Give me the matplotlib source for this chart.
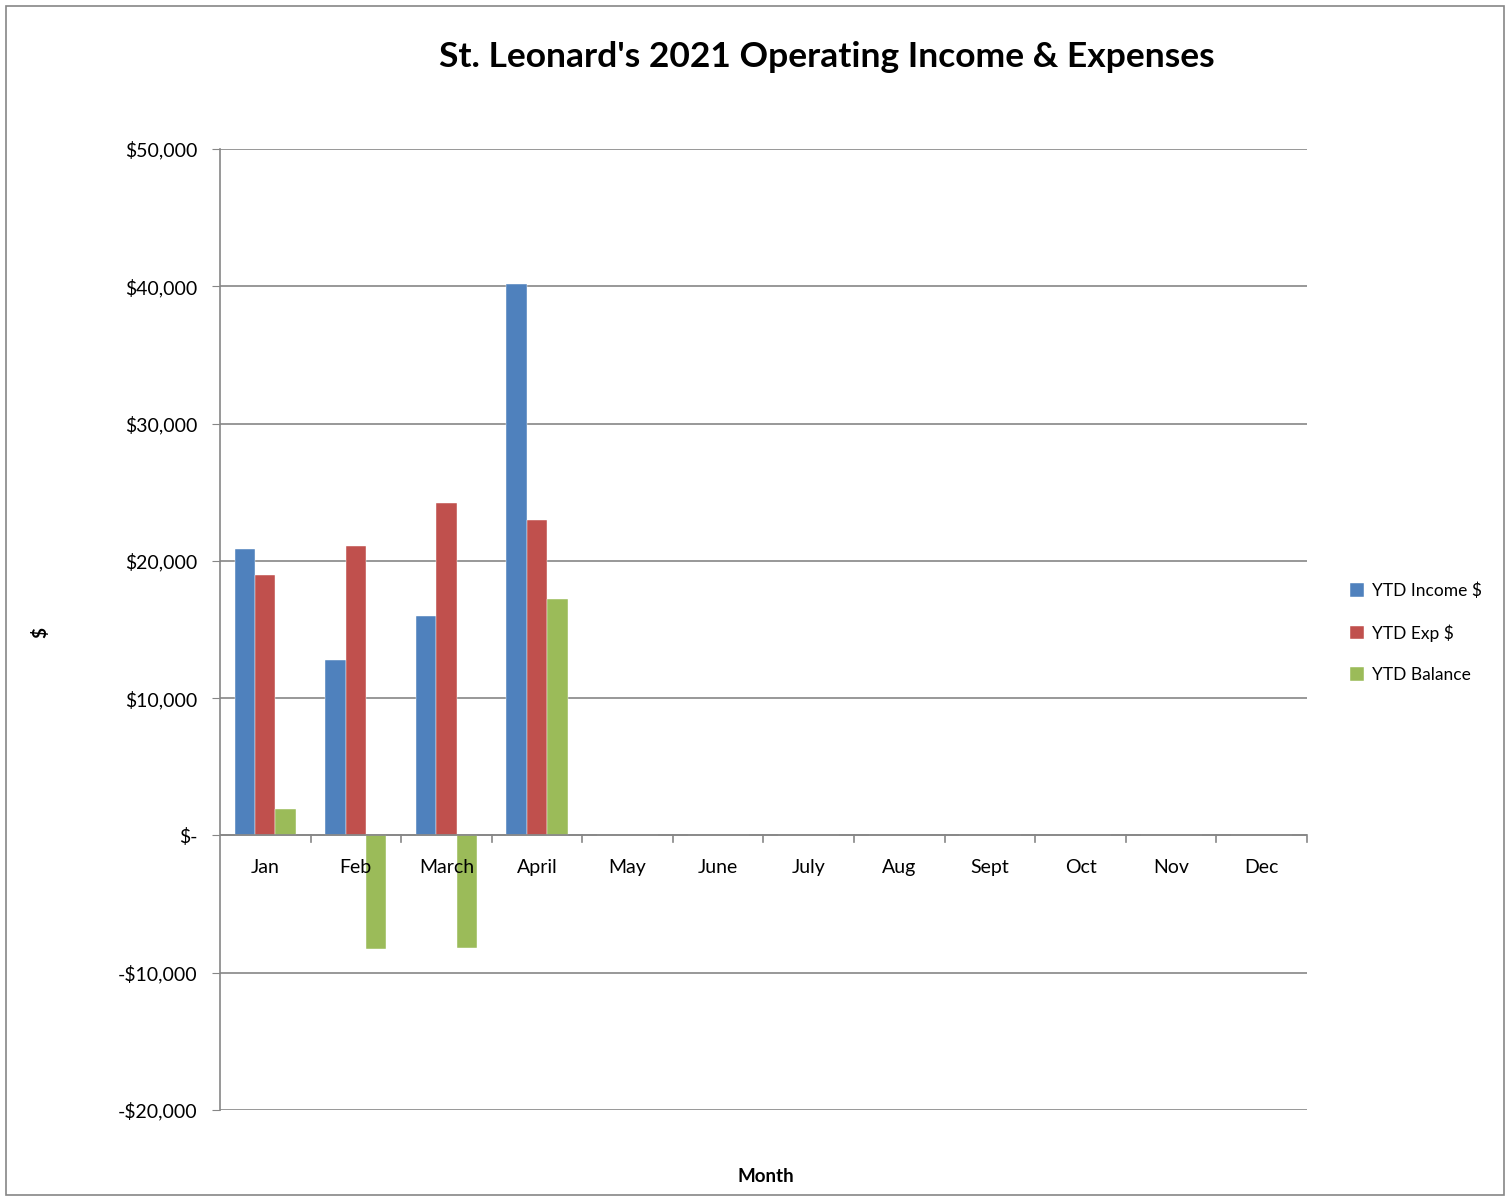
import matplotlib
matplotlib.use("Agg")
import matplotlib.pyplot as plt
import numpy as np
from matplotlib.patches import Rectangle

months = ["Jan", "Feb", "March", "April", "May", "June", "July", "Aug", "Sept", "Oct", "Nov", "Dec"]
ytd_income = [20900, 12800, 15950, 40200, 0, 0, 0, 0, 0, 0, 0, 0]
ytd_exp = [18950, 21050, 24180, 22950, 0, 0, 0, 0, 0, 0, 0, 0]
ytd_balance = [1950, -8250, -8230, 17250, 0, 0, 0, 0, 0, 0, 0, 0]
series_names = ["YTD Income $", "YTD Exp $", "YTD Balance"]
colors = ["#4F81BD", "#C0504D", "#9BBB59"]
yticks = [-20000, -10000, 0, 10000, 20000, 30000, 40000, 50000]

def fmt(v):
    if v == 0:
        return "$-"
    if v < 0:
        return "-${:,}".format(-v)
    return "${:,}".format(v)

plt.rcParams['font.family'] = ['Lato', 'DejaVu Sans']

W, H = 1510, 1197
fig = plt.figure(figsize=(W / 100, H / 100), dpi=100)
fig.patches.append(Rectangle((6 / W, 2 / H), 1498 / W, 1189 / H, transform=fig.transFigure,
                             fill=False, edgecolor="#868686", linewidth=1.2))

ax = fig.add_axes([220 / W, 1 - 1110 / H, (1307 - 220) / W, (1110 - 149) / H])
x = np.arange(len(months))
bw = 0.225
for i, (vals, c, name) in enumerate(zip([ytd_income, ytd_exp, ytd_balance], colors, series_names)):
    ax.bar(x + (i - 1) * bw, vals, width=bw, color=c, label=name, zorder=3,
           edgecolor="white", linewidth=0.3)

ax.set_xlim(-0.5, len(months) - 0.5)
ax.set_ylim(-20000, 50000)
ax.set_yticks(yticks)
ax.set_yticklabels([fmt(v) for v in yticks], fontsize=14)
ax.yaxis.grid(True, color="#868686", linewidth=1.2, zorder=0)
ax.tick_params(axis='y', length=6, color="#868686", direction='out', pad=10)
for s in ["top", "right", "bottom"]:
    ax.spines[s].set_visible(False)
ax.spines["left"].set_color("#868686")
ax.spines["left"].set_linewidth(1.2)

# category axis at zero
ax.axhline(0, color="#868686", linewidth=1.2, zorder=4)
ax.set_xticks([])
for k in range(1, len(months) + 1):
    ax.plot([k - 0.5, k - 0.5], [0, -450], color="#868686", linewidth=1.2, zorder=4, clip_on=False)
for k, m in enumerate(months):
    ax.text(k, -2350, m, ha="center", va="center", fontsize=14, zorder=5)

fig.text(766 / W, 1 - 1176 / H, "Month", fontsize=13.5, fontweight="bold", ha="center", va="center")
fig.text(40 / W, 1 - 632 / H, "$", rotation=90, fontsize=13.5, fontweight="bold", ha="center", va="center")

fig.text(827 / W, 1 - 57 / H, "St. Leonard's 2021 Operating Income & Expenses", fontsize=25.5,
         fontweight="bold", ha="center", va="center")

leg = fig.legend(loc="upper left", bbox_to_anchor=(1334 / W, 1 - 567 / H), frameon=False,
                 fontsize=12.5, handlelength=0.8, handleheight=0.8, labelspacing=1.45, handletextpad=0.5)

fig.savefig("out.png", dpi=100)
